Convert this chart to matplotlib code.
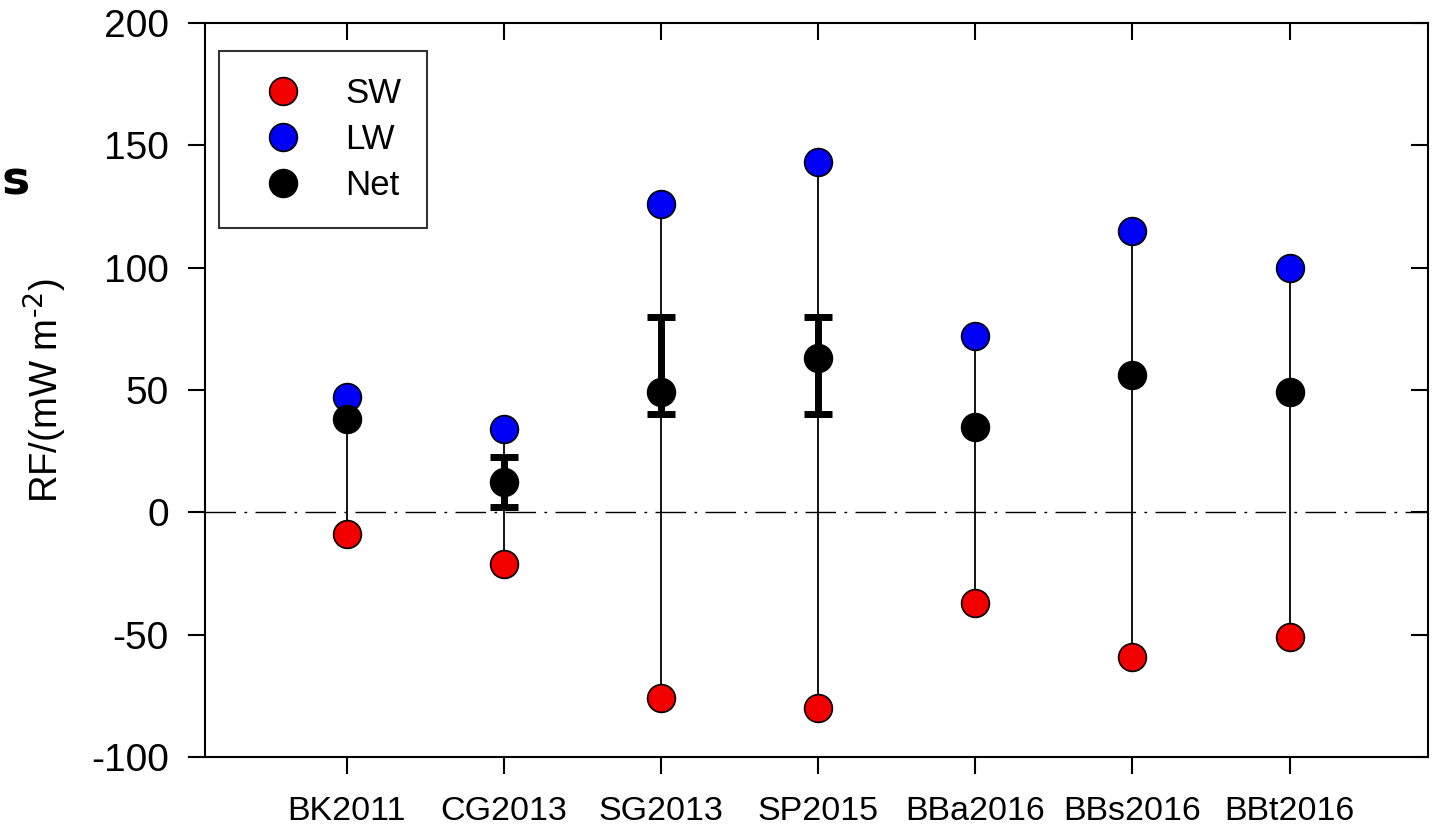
import numpy as np
import matplotlib.pyplot as plt

plt.rcParams['font.family'] = ['Liberation Sans', 'DejaVu Sans']
plt.rcParams['axes.unicode_minus'] = False

# data
sites = ["BK2011", "CG2013", "SG2013", "SP2015", "BBa2016", "BBs2016", "BBt2016"]
sw = [-9, -21, -76, -80, -37, -59, -51]
lw = [47, 34, 126, 143, 72, 115, 100]
net = [38, 12.5, 49, 63, 35, 56, 49]
# error bar ranges for Net (only some sites have them)
err_low = [np.nan, 2, 40, 40, np.nan, np.nan, np.nan]
err_high = [np.nan, 22.5, 80, 80, np.nan, np.nan, np.nan]

x = np.arange(1, len(sites) + 1)
net_arr = np.array(net)
lo = net_arr - np.array(err_low)
hi = np.array(err_high) - net_arr

fig = plt.figure(figsize=(14.32, 8.26), dpi=100)
ax = fig.add_axes([0.1432, 0.0835, 0.854, 0.8887])

# thin lines from SW to LW
ax.vlines(x, sw, lw, color='black', lw=1.3, zorder=1)

# zero line
ax.axhline(0, color='black', lw=1.0, linestyle=(0, (22, 6, 2, 6)), zorder=0)

# error bars on Net
mask = ~np.isnan(lo)
ax.errorbar(x[mask], net_arr[mask], yerr=[lo[mask], hi[mask]], fmt='none',
            ecolor='black', elinewidth=5, capsize=10, capthick=5, zorder=2)

ms = 20
ax.plot(x, sw, 'o', ms=ms, mfc='#f20000', mec='black', mew=1.2, ls='none', zorder=3, label='SW')
ax.plot(x, lw, 'o', ms=ms, mfc='#0000f5', mec='black', mew=1.2, ls='none', zorder=3, label='LW')
ax.plot(x, net, 'o', ms=ms, mfc='black', mec='black', mew=1.2, ls='none', zorder=4, label='Net')

ax.set_xlim(0.1, 7.88)
ax.set_ylim(-100, 200)
ax.set_yticks([-100, -50, 0, 50, 100, 150, 200])
ax.set_xticks(x)
ax.set_xticklabels(sites, fontsize=24.5)
ax.tick_params(axis='y', labelsize=28, direction='out', length=12, width=1.5, pad=14)
ax.tick_params(axis='x', direction='out', length=12, width=1.5, pad=16)
ax.tick_params(top=True, right=True)

# inward ticks on top and right
for t in ax.xaxis.get_major_ticks():
    t.tick2line.set_marker(3)
    t.tick2line.set_markersize(12)
for t in ax.yaxis.get_major_ticks():
    t.tick2line.set_marker(0)
    t.tick2line.set_markersize(12)

for s in ax.spines.values():
    s.set_linewidth(1.5)

ax.set_ylabel(r"RF/(mW m$^{\text{-2}}$)", fontsize=27.5, labelpad=16)

leg = ax.legend(loc='upper left', bbox_to_anchor=(0.011, 0.962), fontsize=25,
                frameon=True, fancybox=False, edgecolor='black', handletextpad=0.7,
                borderpad=0.75, labelspacing=0.38, borderaxespad=0, handlelength=2.2)
leg.get_frame().set_linewidth(1.5)

# partial text visible at the left edge of the original image
fig.text(1 / 1432, 1 - 182 / 826, "s", fontsize=34, fontweight='bold',
         ha='left', va='center', family=['DejaVu Sans'])

fig.savefig("out.png", dpi=100)
